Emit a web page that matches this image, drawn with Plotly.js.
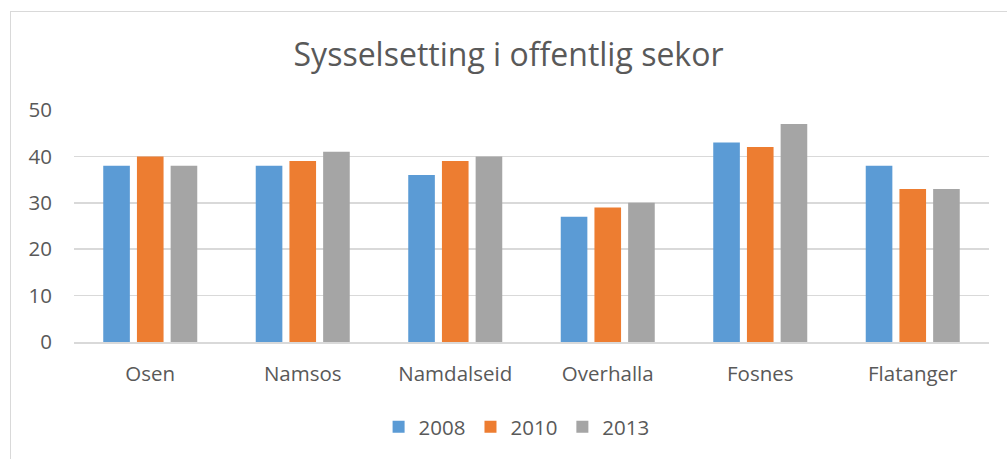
<!DOCTYPE html>
<html>
<head>
<meta charset="utf-8">
<script src="https://cdn.plot.ly/plotly-3.0.1.min.js"></script>
<style>
html,body{margin:0;padding:0;background:#fff;}
#wrap{position:relative;width:1007px;height:459px;overflow:hidden;}
#frame{position:absolute;left:10px;top:11px;width:1000px;height:470px;border:1px solid #D9D9D9;pointer-events:none;box-sizing:border-box;}
#chart{position:absolute;left:0;top:0;width:1007px;height:459px;}
</style>
</head>
<body>
<div id="wrap"><div id="chart"></div><div id="frame"></div></div>
<script>
const categories = ["Osen", "Namsos", "Namdalseid", "Overhalla", "Fosnes", "Flatanger"];
const seriesNames = ["2008", "2010", "2013"];
const values2008 = [38, 38, 36, 27, 43, 38];
const values2010 = [40, 39, 39, 29, 42, 33];
const values2013 = [38, 41, 40, 30, 47, 33];
const yTicks = [0, 10, 20, 30, 40, 50];

const colors = ["#5B9BD5", "#ED7D31", "#A5A5A5"];
const font = "Open Sans, sans-serif";
const seriesValues = [values2008, values2010, values2013];

const traces = seriesNames.map((name, i) => ({
  type: "bar",
  name: name,
  x: categories,
  y: seriesValues[i],
  marker: {color: colors[i]},
  hoverinfo: "x+y+name"
}));

const layout = {
  width: 1007, height: 459,
  margin: {l: 74, r: 18, t: 110, b: 117},
  paper_bgcolor: "rgba(0,0,0,0)",
  plot_bgcolor: "rgba(0,0,0,0)",
  barmode: "group",
  bargap: 0.337,
  bargroupgap: 0.21,
  title: {
    text: "Sysselsetting i offentlig sekor",
    font: {family: font, size: 32, color: "#595959"},
    x: 0.505, xref: "container", xanchor: "center",
    y: 0.88, yref: "container", yanchor: "middle"
  },
  xaxis: {
    type: "category",
    tickfont: {family: font, size: 20.5, color: "#595959"},
    showline: true, linecolor: "#D9D9D9", linewidth: 1.5,
    ticks: "", showgrid: false, zeroline: false,
    ticklabelstandoff: 13
  },
  yaxis: {
    range: [0, 50],
    tickvals: yTicks,
    tickfont: {family: font, size: 20.5, color: "#595959"},
    gridcolor: "#D9D9D9", gridwidth: 1.5,
    showline: false, zeroline: false, ticks: "",
    ticklabelstandoff: 21
  },
  legend: {
    orientation: "h",
    x: 0.513, xref: "container", xanchor: "center",
    y: 0.07, yref: "container", yanchor: "middle",
    font: {family: font, size: 20.5, color: "#595959"},
    itemwidth: 20,
    traceorder: "normal"
  },
  showlegend: true
};

Plotly.newPlot("chart", traces, layout, {displayModeBar: false, staticPlot: true});
</script>
</body>
</html>
